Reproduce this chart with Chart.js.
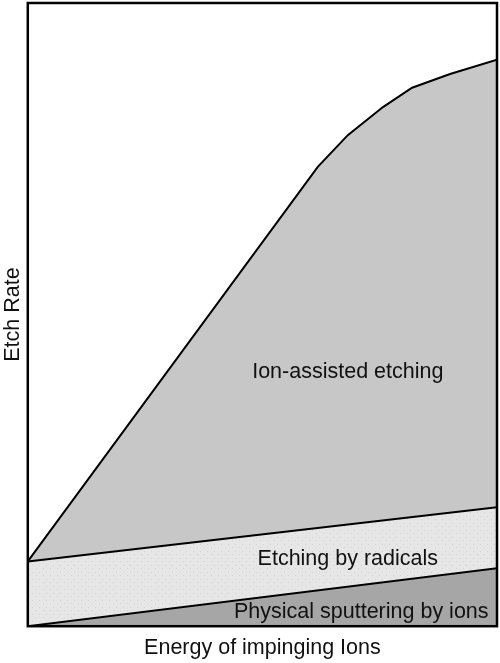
<!DOCTYPE html>
<html>
<head>
<meta charset="utf-8">
<script src="https://cdn.jsdelivr.net/npm/chart.js@4.4.1/dist/chart.umd.min.js"></script>
<style>
  html, body { margin: 0; padding: 0; background: #fff; }
  #wrap { width: 500px; height: 663px; }
</style>
</head>
<body>
<div id="wrap"><canvas id="etchChart"></canvas></div>
<script>
// valores (x: energía 0-100, y: velocidad de grabado 0-100)
const sputterX = [0, 100];
const sputterY = [0, 9.3];

const radicalX = [0, 100];
const radicalY = [10.4, 19.1];

const ionX = [0, 61.8, 68.2, 75.7, 81.9, 90.0, 100];
const ionY = [10.4, 73.7, 78.8, 83.3, 86.4, 88.6, 90.9];

const regionLabels = ['Physical sputtering by ions', 'Etching by radicals', 'Ion-assisted etching'];
const xTitle = 'Energy of impinging Ions';
const yTitle = 'Etch Rate';

const FONT = '"Liberation Sans", Arial, Helvetica, sans-serif';
const FSIZE = 21.5;

const toPoints = (xs, ys) => xs.map((x, i) => ({ x: x, y: ys[i] }));

// trama punteada suave para la banda de radicales
const makeDots = () => {
  const c = document.createElement('canvas');
  c.width = 7; c.height = 7;
  const g = c.getContext('2d');
  g.fillStyle = '#e6e6e6';
  g.fillRect(0, 0, 7, 7);
  g.fillStyle = '#d4d4d4';
  g.fillRect(1, 1, 1, 1);
  g.fillRect(4, 5, 1, 1);
  return g.createPattern(c, 'repeat');
};

// marco y textos dentro del área
const framePlugin = {
  id: 'frame',
  afterDatasetsDraw(chart) {
    const { ctx, chartArea: a, scales: { x, y } } = chart;
    ctx.save();
    ctx.fillStyle = '#111';
    ctx.font = FSIZE + 'px ' + FONT;
    ctx.textBaseline = 'alphabetic';
    ctx.textAlign = 'center';
    ctx.fillText(regionLabels[2], x.getPixelForValue(68.2), y.getPixelForValue(39.9));
    ctx.fillText(regionLabels[1], x.getPixelForValue(68.2), y.getPixelForValue(9.9));
    ctx.textAlign = 'right';
    ctx.fillText(regionLabels[0], x.getPixelForValue(98.2), y.getPixelForValue(1.3));
    ctx.strokeStyle = '#000';
    ctx.lineWidth = 2.5;
    ctx.strokeRect(a.left, a.top, a.right - a.left, a.bottom - a.top);
    ctx.restore();
  }
};

new Chart(document.getElementById('etchChart'), {
  type: 'scatter',
  data: {
    datasets: [
      {
        label: regionLabels[0],
        data: toPoints(sputterX, sputterY),
        showLine: true,
        fill: 'origin',
        backgroundColor: '#a6a6a6',
        borderColor: '#000',
        borderWidth: 2,
        pointRadius: 0
      },
      {
        label: regionLabels[1],
        data: toPoints(radicalX, radicalY),
        showLine: true,
        fill: '-1',
        backgroundColor: makeDots(),
        borderColor: '#000',
        borderWidth: 2,
        pointRadius: 0
      },
      {
        label: regionLabels[2],
        data: toPoints(ionX, ionY),
        showLine: true,
        fill: '-1',
        backgroundColor: '#c6c7c6',
        borderColor: '#000',
        borderWidth: 2,
        pointRadius: 0
      }
    ]
  },
  options: {
    responsive: true,
    maintainAspectRatio: false,
    animation: false,
    layout: { padding: { top: 3, right: 3, bottom: 2, left: 0 } },
    plugins: {
      legend: { display: false },
      tooltip: { enabled: false }
    },
    scales: {
      x: {
        type: 'linear',
        min: 0,
        max: 100,
        grid: { display: false, drawTicks: false },
        border: { display: false },
        ticks: { display: false },
        title: {
          display: true,
          text: xTitle,
          color: '#111',
          font: { family: FONT, size: FSIZE },
          padding: { top: 9, bottom: 0 }
        }
      },
      y: {
        min: 0,
        max: 100,
        grid: { display: false, drawTicks: false },
        border: { display: false },
        ticks: { display: false },
        title: {
          display: true,
          text: yTitle,
          color: '#111',
          font: { family: FONT, size: FSIZE },
          padding: { top: 0, bottom: 2 }
        }
      }
    }
  },
  plugins: [framePlugin]
});
</script>
</body>
</html>
